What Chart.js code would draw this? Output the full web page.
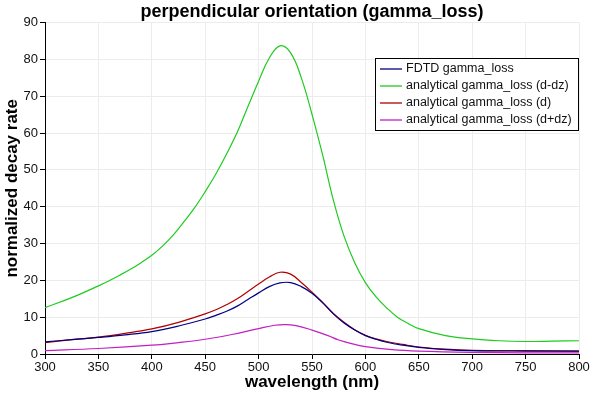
<!DOCTYPE html>
<html>
<head>
<meta charset="utf-8">
<script src="https://cdn.jsdelivr.net/npm/chart.js@4/dist/chart.umd.min.js"></script>
<style>
  html, body { margin: 0; padding: 0; background: #fff; }
  #wrap { width: 598px; height: 398px; }
</style>
</head>
<body>
<div id="wrap"><canvas id="chart" width="598" height="398"></canvas></div>
<script>
// values
const fdtdX = [300, 325, 350, 375, 400, 425, 450, 460, 470, 480, 490, 500, 510, 520, 530, 540, 550, 560, 570, 580, 590, 600, 610, 620, 635, 650, 675, 700, 750, 800];
const fdtdY = [3.3, 3.9, 4.5, 5.2, 6.1, 7.6, 9.5, 10.5, 11.6, 13.0, 14.8, 16.6, 18.3, 19.3, 19.4, 18.3, 16.5, 13.9, 10.9, 8.4, 6.5, 5.0, 4.0, 3.2, 2.4, 1.8, 1.2, 0.9, 0.8, 0.8];

const minusX = [300, 325, 350, 360, 370, 380, 390, 400, 410, 420, 430, 440, 450, 460, 470, 480, 490, 500, 510, 520, 530, 540, 550, 560, 570, 580, 590, 600, 610, 620, 630, 640, 650, 675, 700, 725, 750, 775, 800];
const minusY = [12.6, 15.3, 18.5, 19.9, 21.4, 23.0, 24.8, 26.8, 29.3, 32.3, 35.9, 39.7, 44.1, 48.9, 54.3, 60.2, 67.2, 74.1, 80.4, 83.7, 81.8, 75.0, 65.1, 54.0, 41.8, 32.0, 24.8, 19.4, 15.5, 12.5, 10.0, 8.3, 6.9, 5.0, 4.1, 3.6, 3.4, 3.5, 3.6];

const centerX = [300, 325, 350, 375, 400, 425, 450, 460, 470, 480, 490, 500, 510, 520, 530, 540, 550, 560, 570, 580, 590, 600, 610, 620, 635, 650, 675, 700, 750, 800];
const centerY = [3.1, 3.9, 4.6, 5.6, 6.8, 8.6, 10.9, 12.0, 13.4, 15.0, 17.0, 19.0, 20.9, 22.2, 21.7, 19.4, 16.8, 14.0, 11.0, 8.6, 6.6, 5.1, 4.1, 3.4, 2.6, 1.9, 1.3, 1.0, 0.9, 0.8];

const plusX = [300, 350, 400, 425, 450, 475, 500, 515, 525, 535, 550, 565, 575, 590, 600, 625, 650, 700, 750, 800];
const plusY = [0.9, 1.5, 2.4, 3.1, 4.0, 5.3, 6.9, 7.8, 8.0, 7.7, 6.5, 5.0, 3.8, 2.6, 2.0, 1.2, 0.8, 0.45, 0.3, 0.3];

const seriesNames = ["FDTD gamma_loss", "analytical gamma_loss (d-dz)", "analytical gamma_loss (d)", "analytical gamma_loss (d+dz)"];
const seriesColors = ["#000080", "#1ecb1e", "#b00000", "#c21fc2"];

const xTicks = [300, 350, 400, 450, 500, 550, 600, 650, 700, 750, 800];
const yTicks = [0, 10, 20, 30, 40, 50, 60, 70, 80, 90];

const FONT = "'Liberation Sans', Arial, sans-serif";

function toPoints(xs, ys) {
  return xs.map((x, i) => ({ x: x, y: ys[i] }));
}

const seriesData = [
  toPoints(fdtdX, fdtdY),
  toPoints(minusX, minusY),
  toPoints(centerX, centerY),
  toPoints(plusX, plusY)
];

// legend box drawn inside the plot, top right
const boxLegend = {
  id: "boxLegend",
  afterDraw(chart) {
    const ctx = chart.ctx;
    const area = chart.chartArea;
    const sets = chart.data.datasets;
    ctx.save();
    ctx.font = "12.5px " + FONT;
    let maxW = 0;
    sets.forEach((ds) => { maxW = Math.max(maxW, ctx.measureText(ds.label).width); });
    const rowH = 17;
    const w = 5 + 22 + 4 + maxW + 6;
    const h = sets.length * rowH + 4;
    const left = Math.round(area.right - 1 - w);
    const top = Math.round(area.top + 35);
    ctx.fillStyle = "#fff";
    ctx.fillRect(left, top, w, h);
    ctx.strokeStyle = "#000";
    ctx.lineWidth = 1;
    ctx.strokeRect(left + 0.5, top + 0.5, Math.round(w), Math.round(h));
    ctx.textBaseline = "middle";
    ctx.lineWidth = 1.3;
    sets.forEach((ds, i) => {
      const y = Math.round(top + 2 + rowH * i + rowH / 2);
      ctx.strokeStyle = ds.borderColor;
      ctx.beginPath();
      ctx.moveTo(left + 5, y);
      ctx.lineTo(left + 27, y);
      ctx.stroke();
      ctx.fillStyle = "#111";
      ctx.fillText(ds.label, left + 31, y);
    });
    ctx.restore();
  }
};

new Chart(document.getElementById("chart"), {
  type: "line",
  data: {
    datasets: seriesData.map((pts, i) => ({
      label: seriesNames[i],
      data: pts,
      borderColor: seriesColors[i],
      backgroundColor: seriesColors[i],
      borderWidth: 1.2,
      pointRadius: 0,
      fill: false,
      tension: 0.4
    }))
  },
  options: {
    responsive: false,
    animation: false,
    layout: { padding: { left: 0, right: 19, top: 0, bottom: 0 } },
    plugins: {
      legend: { display: false },
      tooltip: { enabled: false },
      title: {
        display: true,
        fullSize: false,
        text: "perpendicular orientation (gamma_loss)",
        color: "#000",
        font: { family: FONT, size: 18, weight: "bold" },
        padding: { top: 1, bottom: 0 }
      }
    },
    scales: {
      x: {
        type: "linear",
        min: 300,
        max: 800,
        afterBuildTicks: (s) => { s.ticks = xTicks.map((v) => ({ value: v })); },
        afterFit: (s) => { s.height = 44; },
        ticks: { color: "#111", font: { family: FONT, size: 13 }, padding: 1, maxRotation: 0 },
        grid: { color: "#ececec", tickColor: "#000", tickLength: 5 },
        border: { color: "#000", width: 1 },
        title: {
          display: true,
          text: "wavelength (nm)",
          color: "#000",
          font: { family: FONT, size: 17, weight: "bold" },
          padding: { top: 0, bottom: 5 }
        }
      },
      y: {
        type: "linear",
        min: 0,
        max: 90,
        afterBuildTicks: (s) => { s.ticks = yTicks.map((v) => ({ value: v })); },
        afterFit: (s) => { s.width = 45; },
        ticks: { color: "#111", font: { family: FONT, size: 13 }, padding: 2 },
        grid: { color: "#ececec", tickColor: "#000", tickLength: 5 },
        border: { color: "#000", width: 1 },
        title: {
          display: true,
          text: "normalized decay rate",
          color: "#000",
          font: { family: FONT, size: 17, weight: "bold" },
          padding: { top: 2, bottom: 0 }
        }
      }
    }
  },
  plugins: [boxLegend]
});
</script>
</body>
</html>
